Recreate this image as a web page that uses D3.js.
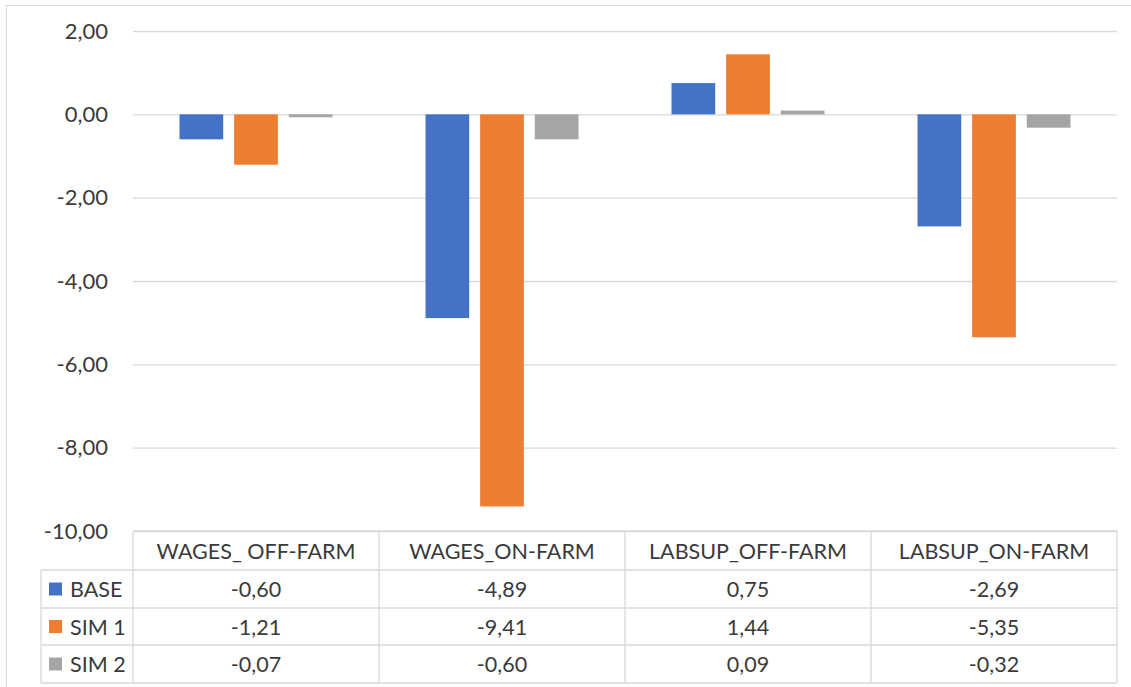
<!DOCTYPE html>
<meta charset="utf-8">
<html>
<head>
<style>
  body { margin: 0; background: #fff; }
  svg text { font-family: Lato, "Open Sans", sans-serif; fill: #3a3a3a; }
</style>
</head>
<body>
<svg width="1131" height="687" id="chart-area"></svg>
<script src="https://d3js.org/d3.v7.min.js"></script>
<script>
    var categories = ["WAGES_ OFF-FARM", "WAGES_ON-FARM", "LABSUP_OFF-FARM", "LABSUP_ON-FARM"];
    var seriesNames = ["BASE", "SIM 1", "SIM 2"];
    var baseValues = [-0.60, -4.89, 0.75, -2.69];
    var sim1Values = [-1.21, -9.41, 1.44, -5.35];
    var sim2Values = [-0.07, -0.60, 0.09, -0.32];
    var yTicks = [2, 0, -2, -4, -6, -8, -10];
    var colors = ["#4472C4", "#ED7D31", "#A5A5A5"];

    var seriesValues = [baseValues, sim1Values, sim2Values];

    var svg = d3.select("svg"),
        plotLeft = 133, plotRight = 1117,
        plotTop = 31, plotBottom = 531,
        gridColor = "#d9d9d9",
        textSize = "21.5px";

    var locale = d3.formatLocale({ decimal: ",", thousands: ".", grouping: [3], currency: ["", ""], minus: "-" });
    var fmt = locale.format(".2f");

    var x0 = d3.scaleBand().domain(categories).range([plotLeft, plotRight]);
    var x1 = d3.scaleBand().domain(seriesNames).range([46.5, 199.5]).paddingInner(0.2);
    var y = d3.scaleLinear().domain([-10, 2]).range([plotBottom, plotTop]);

    // outer chart border
    svg.append("rect")
        .attr("x", 6.5).attr("y", 5.5)
        .attr("width", 1140).attr("height", 700)
        .attr("fill", "none").attr("stroke", gridColor);

    /* gridlines + y labels */
    var yAxis = svg.append("g")
        .attr("transform", "translate(" + plotLeft + ",0)")
        .call(d3.axisLeft(y).tickValues(yTicks).tickFormat(fmt)
            .tickSize(-(plotRight - plotLeft)).tickPadding(25));
    yAxis.select(".domain").remove();
    yAxis.selectAll(".tick line").attr("stroke", gridColor).attr("stroke-width", 1.3);
    yAxis.selectAll(".tick text")
        .attr("fill", "#3a3a3a")
        .style("font-size", "22px")
        .attr("font-family", "Lato, sans-serif");

    /* bars */
    var groups = svg.selectAll(".group")
        .data(categories)
        .enter().append("g")
        .attr("class", "group")
        .attr("transform", function (d) { return "translate(" + x0(d) + ",0)"; });

    groups.selectAll("rect")
        .data(function (d, i) {
            return seriesNames.map(function (s, j) { return { s: s, v: seriesValues[j][i], c: colors[j] }; });
        })
        .enter().append("rect")
        .attr("x", function (d) { return x1(d.s); })
        .attr("y", function (d) { return y(Math.max(0, d.v)); })
        .attr("width", x1.bandwidth())
        .attr("height", function (d) { return Math.abs(y(d.v) - y(0)); })
        .attr("fill", function (d) { return d.c; });

    /* data table under the chart */
    var rowLines = [531, 570, 608, 645, 683],
        legendLeft = 41;
    var table = svg.append("g");

    // horizontal lines
    rowLines.forEach(function (ly, i) {
        table.append("line")
            .attr("x1", i === 0 ? plotLeft : legendLeft).attr("x2", plotRight)
            .attr("y1", ly).attr("y2", ly)
            .attr("stroke", gridColor).attr("stroke-width", 1.3);
    });
    // vertical lines
    var colEdges = categories.map(function (c) { return x0(c); }).concat([plotRight]);
    colEdges.forEach(function (lx) {
        table.append("line")
            .attr("x1", lx).attr("x2", lx)
            .attr("y1", rowLines[0]).attr("y2", rowLines[4])
            .attr("stroke", gridColor).attr("stroke-width", 1.3);
    });
    table.append("line")
        .attr("x1", legendLeft).attr("x2", legendLeft)
        .attr("y1", rowLines[1]).attr("y2", rowLines[4])
        .attr("stroke", gridColor).attr("stroke-width", 1.3);

    // header row
    table.selectAll(".head")
        .data(categories)
        .enter().append("text")
        .attr("class", "head")
        .attr("x", function (d) { return x0(d) + x0.bandwidth() / 2; })
        .attr("y", (rowLines[0] + rowLines[1]) / 2)
        .attr("text-anchor", "middle")
        .attr("dominant-baseline", "central")
        .style("font-size", textSize)
        .text(function (d) { return d; });

    // series rows
    seriesNames.forEach(function (s, j) {
        var midY = (rowLines[j + 1] + rowLines[j + 2]) / 2;
        table.append("rect")
            .attr("x", 49).attr("y", midY - 6.5)
            .attr("width", 13).attr("height", 13)
            .attr("fill", colors[j]);
        table.append("text")
            .attr("x", 70).attr("y", midY)
            .attr("dominant-baseline", "central")
            .style("font-size", textSize)
            .text(s);
        table.selectAll(".v" + j)
            .data(seriesValues[j])
            .enter().append("text")
            .attr("x", function (d, i) { return x0(categories[i]) + x0.bandwidth() / 2; })
            .attr("y", midY)
            .attr("text-anchor", "middle")
            .attr("dominant-baseline", "central")
            .style("font-size", textSize)
            .text(function (d) { return fmt(d); });
    });
</script>
</body>
</html>
